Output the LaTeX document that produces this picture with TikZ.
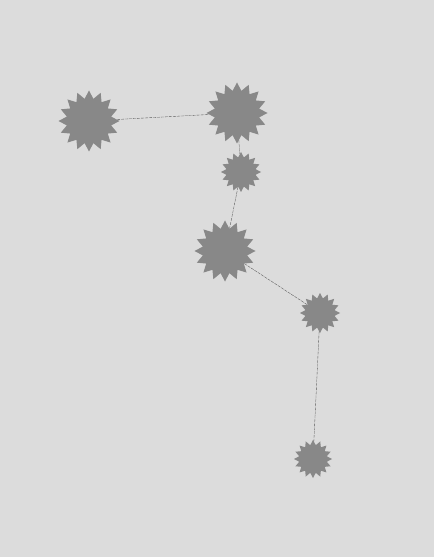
\documentclass[tikz,border=0pt]{standalone}
\usetikzlibrary{shapes.geometric}
\definecolor{bg}{HTML}{DCDCDC}
\definecolor{starfill}{HTML}{888888}
\definecolor{edgecol}{HTML}{555555}
\begin{document}
\begin{tikzpicture}[x=1bp,y=-1bp,
  burst/.style={star, star points=16, star point ratio=1.35, fill=starfill, draw=none, inner sep=0pt},
  big/.style={burst, minimum size=61bp},
  small/.style={burst, minimum size=40bp},
  link/.style={draw=edgecol, line width=0.35pt, dash pattern=on 3pt off 1pt}]
\fill[bg] (0,0) rectangle (434,557);
\useasboundingbox (0,0) rectangle (434,557);
\node[big] (a) at (89,121) {};
\node[big] (b) at (237,113) {};
\node[small] (c) at (241,172) {};
\node[big] (d) at (225,251) {};
\node[small] (e) at (320,313) {};
\node[small, minimum size=38bp] (f) at (313,459) {};
\draw[link] (a) -- (b);
\draw[link] (b) -- (c);
\draw[link] (c) -- (d);
\draw[link] (d) -- (e);
\draw[link] (e) -- (f);
\end{tikzpicture}
\end{document}
